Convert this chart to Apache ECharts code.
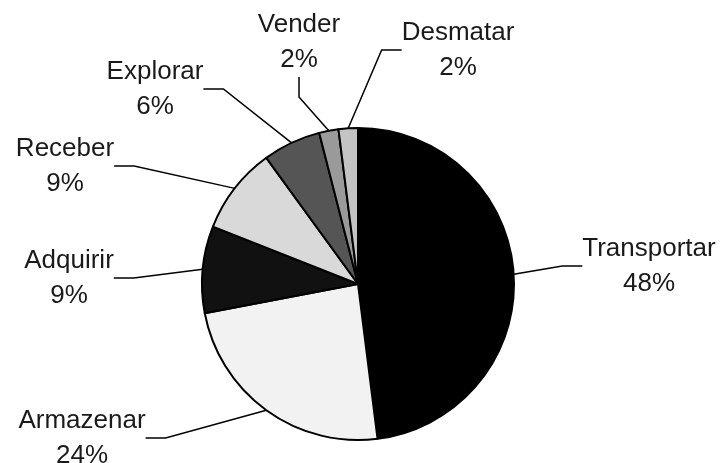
<!DOCTYPE html>
<html>
<head>
<meta charset="utf-8">
<script src="https://cdn.jsdelivr.net/npm/echarts@6/dist/echarts.min.js"></script>
<style>
  html, body { margin: 0; padding: 0; background: #fff; }
  #chart { width: 720px; height: 463px; }
</style>
</head>
<body>
<div id="chart"></div>
<script>
// dados do grafico
var categorias = ["Transportar", "Armazenar", "Adquirir", "Receber", "Explorar", "Vender", "Desmatar"];
var valores = [48, 24, 9, 9, 6, 2, 2];
var cores = ["#000000", "#f2f2f2", "#111111", "#d9d9d9", "#555555", "#9a9a9a", "#c4c4c4"];

// onde fica cada rotulo (centro do texto)
var rotuloPos = [[649, 266], [82, 438], [69, 278], [65, 166], [155, 89], [299, 42], [458, 50]];

var chart = echarts.init(document.getElementById("chart"));

var dados = [];
for (var i = 0; i < categorias.length; i++) {
    dados.push({ name: categorias[i], value: valores[i], itemStyle: { color: cores[i] } });
}

chart.setOption({
    animation: false,
    backgroundColor: "#fff",
    series: [{
        type: "pie",
        center: [358, 284],
        radius: 156,
        startAngle: 90,
        clockwise: true,
        avoidLabelOverlap: false,
        data: dados,
        itemStyle: { borderColor: "#000", borderWidth: 2 },
        label: {
            show: true,
            position: "outside",
            formatter: function(p) { return p.name + "\n" + p.value + "%"; },
            fontFamily: "Liberation Sans",
            fontSize: 26,
            lineHeight: 35,
            color: "#1a1a1a",
            align: "center"
        },
        labelLine: {
            show: true,
            length: 20,
            length2: 20,
            lineStyle: { color: "#000", width: 1.5 }
        },
        labelLayout: function(params) {
            var pos = rotuloPos[params.dataIndex];
            return { x: pos[0], y: pos[1], align: "center", verticalAlign: "middle" };
        }
    }]
});
</script>
</body>
</html>
